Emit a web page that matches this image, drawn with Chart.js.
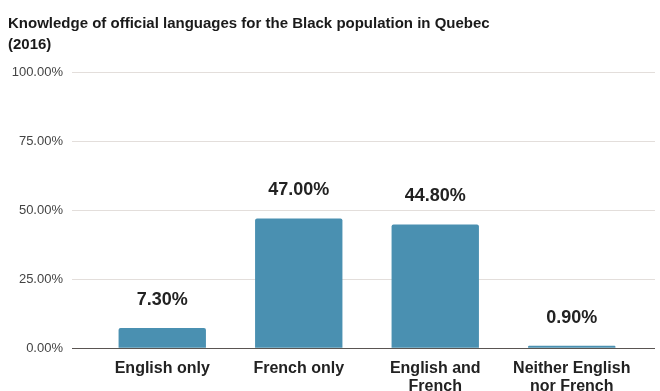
<!DOCTYPE html>
<html>
<head>
<meta charset="utf-8">
<script src="https://cdn.jsdelivr.net/npm/chart.js@4.4.0/dist/chart.umd.min.js"></script>
<style>
  html, body { margin: 0; padding: 0; background: #fff; }
  #wrap { width: 660px; height: 391px; }
</style>
</head>
<body>
<div id="wrap"><canvas id="chart"></canvas></div>
<script>
// data
const categories = ['English only', 'French only', ['English and', 'French'], ['Neither English', 'nor French']];
const percentValues = [7.3, 47.0, 44.8, 0.9];
const yTickValues = [0, 25, 50, 75, 100];

const FONT = '"Liberation Sans", Arial, sans-serif';

function gridColor(ctx) {
  return ctx.tick && ctx.tick.value === 0 ? '#5a5552' : '#e3dedb';
}

// value labels above each bar
const valueLabels = {
  id: 'valueLabels',
  afterDatasetsDraw(chart) {
    const ctx = chart.ctx;
    const meta = chart.getDatasetMeta(0);
    ctx.save();
    ctx.font = 'bold 18px ' + FONT;
    ctx.fillStyle = '#222';
    ctx.textAlign = 'center';
    ctx.textBaseline = 'middle';
    meta.data.forEach((bar, i) => {
      ctx.fillText(percentValues[i].toFixed(2) + '%', bar.x, bar.y - 28);
    });
    ctx.restore();
  }
};

const ctx = document.getElementById('chart').getContext('2d');
new Chart(ctx, {
  type: 'bar',
  data: {
    labels: categories,
    datasets: [{
      data: percentValues,
      backgroundColor: '#4a90b1',
      borderRadius: 2,
      categoryPercentage: 1,
      barPercentage: 0.64
    }]
  },
  options: {
    responsive: true,
    maintainAspectRatio: false,
    animation: false,
    layout: { padding: { left: 8, right: 5, top: 0, bottom: -16 } },
    plugins: {
      legend: { display: false },
      tooltip: { enabled: false },
      title: {
        display: true,
        text: ['Knowledge of official languages for the Black population in Quebec', '(2016)'],
        align: 'start',
        color: '#1a1a1a',
        font: { family: FONT, size: 15, weight: 'bold', lineHeight: 1.4 },
        padding: { top: 13, bottom: 17 }
      }
    },
    scales: {
      x: {
        grid: { display: false, drawTicks: false },
        border: { display: false },
        ticks: {
          color: '#222',
          font: { family: FONT, size: 16, weight: 'bold', lineHeight: 1.15 },
          padding: 11,
          maxRotation: 0,
          autoSkip: false
        }
      },
      y: {
        min: 0,
        max: 100,
        afterBuildTicks(scale) { scale.ticks = yTickValues.map(v => ({ value: v })); },
        afterFit(scale) { scale.width = 86; },
        border: { display: false },
        grid: { color: gridColor, tickLength: 22, lineWidth: 1 },
        ticks: {
          color: '#444',
          font: { family: FONT, size: 13 },
          padding: 9,
          callback: v => v.toFixed(2) + '%'
        }
      },
      y2: {
        position: 'right',
        min: 0,
        max: 100,
        afterBuildTicks(scale) { scale.ticks = yTickValues.map(v => ({ value: v })); },
        border: { display: false },
        grid: { color: gridColor, drawOnChartArea: false, tickLength: 15, lineWidth: 1 },
        ticks: { display: false }
      }
    }
  },
  plugins: [valueLabels]
});
</script>
</body>
</html>
